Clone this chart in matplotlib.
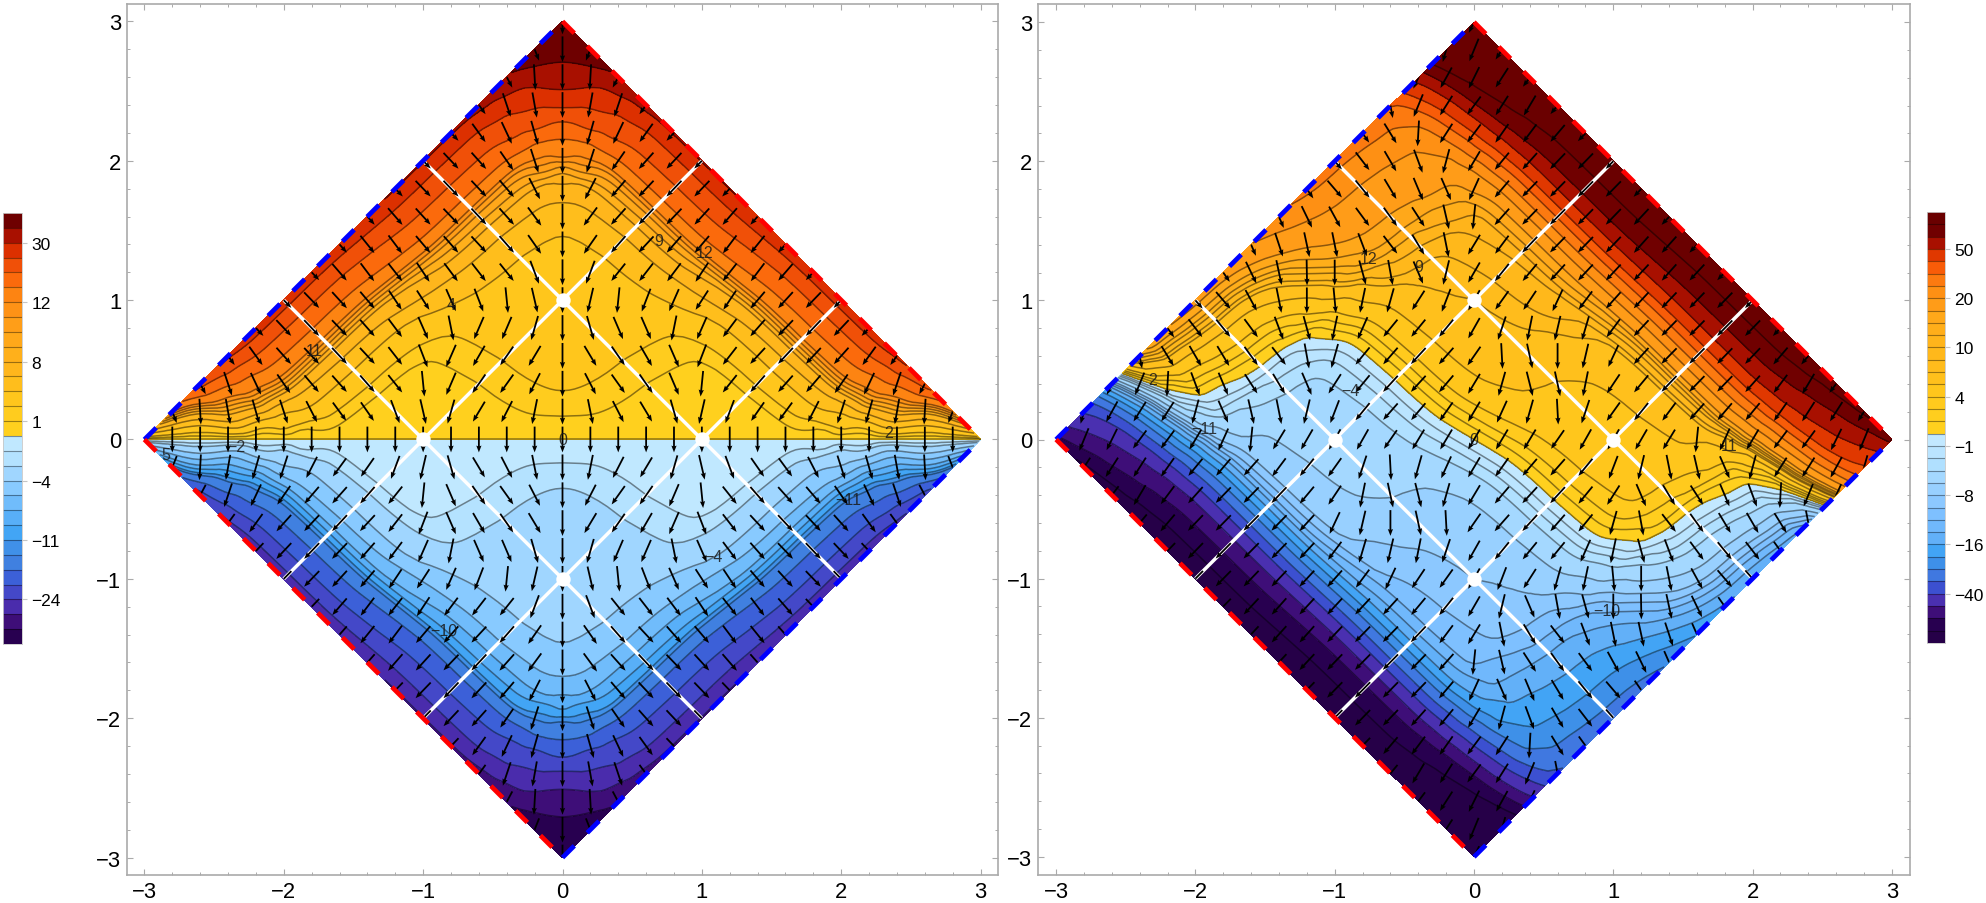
import numpy as np
import matplotlib
matplotlib.use("Agg")
import matplotlib.pyplot as plt
from matplotlib.patches import Polygon

plt.rcParams["font.family"] = ["Liberation Sans", "DejaVu Sans"]
plt.rcParams["lines.scale_dashes"] = False
plt.rcParams["contour.negative_linestyle"] = "solid"

# profiles read along the diagonals, knots every 0.05 from 0 to 3
left_profile = [0, .15, .30, .45, .59, .73, .87, 1.00, 1.11, 1.20, 1.27, 1.33, 1.38, 1.42, 1.46, 1.49,
                1.52, 1.54, 1.56, 1.58, 1.60, 1.63, 1.67, 1.71, 1.75, 1.79, 1.83, 1.88, 1.93, 1.99, 2.07,
                2.20, 2.38, 2.65, 3.00, 3.40, 3.78, 4.12, 4.42, 4.90, 5.65, 6.30, 6.90, 7.45, 8.05, 8.85,
                10.0, 11.2, 12.5, 13.7, 14.8, 15.8, 16.8, 17.8, 18.8, 20.0, 21.3, 22.8, 24.5, 26.5, 28.8]
right_u_profile = [0, .58, 1.15, 1.72, 2.30, 2.82, 3.30, 3.75, 4.15, 4.55, 4.90, 5.20, 5.45, 5.70, 5.90, 6.02,
                   6.12, 6.20, 6.28, 6.34, 6.40, 6.52, 6.65, 6.80, 6.95, 7.10, 7.28, 7.50, 7.72, 7.95, 8.13,
                   8.30, 8.50, 8.85, 9.60, 10.5, 11.4, 12.4, 14.3, 16.5, 19.0, 22.0, 25.0, 28.5, 32.0, 36.0,
                   40.0, 44.0, 48.3, 52.0, 55.5, 58.5, 61.0, 63.5, 66.0, 68.5, 71.0, 74.0, 77.0, 81.0, 85.0]
right_v_profile = [0, .15, .30, .45, .59, .73, .87, 1.00, 1.11, 1.20, 1.27, 1.33, 1.38, 1.42, 1.46, 1.49,
                   1.52, 1.54, 1.56, 1.58, 1.60, 1.63, 1.67, 1.71, 1.75, 1.79, 1.83, 1.88, 1.93, 1.99, 2.07,
                   2.20, 2.38, 2.65, 3.00, 3.40, 3.78, 4.12, 4.42, 4.90, 5.65, 6.30, 6.90, 7.30, 7.80, 8.40,
                   9.00, 9.60, 10.2, 10.8, 11.4, 12.0, 12.8, 13.7, 14.7, 15.7, 16.8, 18.0, 19.2, 20.6, 22.0]

left_levels = [-70, -38, -30, -24, -19, -15, -12, -11, -9.5, -8, -6, -4, -2, -1, 0,
               1, 2, 4, 6, 8, 9, 10, 11, 12, 15, 19, 24, 30, 38, 70]
right_levels = [-120, -70, -60, -50, -40, -32, -25, -20, -16, -13, -11, -9.5, -8, -5.9, -3.6, -2.3, -1.2, 0,
                1.2, 2.3, 3.6, 5.9, 8, 8.8, 10, 11, 12.4, 14.5, 20, 26, 33, 40, 50, 60, 70, 120]

left_colors = ["#280050", "#3e0e78", "#4a2cac", "#4448c8", "#3c60d8", "#4080e0", "#4090e8", "#42a5f5",
               "#58aff8", "#70bcfb", "#88caff", "#a0d6ff", "#b4e2ff", "#c0e8ff",
               "#ffd01e", "#ffcc1e", "#ffc61c", "#ffbe1c", "#ffb61c", "#ffb01b", "#ffa81a", "#ff9e18",
               "#fe9216", "#fd8412", "#fb6a0c", "#f05008", "#dc3000", "#a81000", "#6e0000"]
right_colors = ["#260048", "#280050", "#3e0e78", "#4a30b0", "#3c50d0", "#4078e0", "#3e90e8", "#42a4f5",
                "#62b0f8", "#70b8fc", "#7ec0ff", "#8cc8ff", "#98d0ff", "#a4d8ff", "#b0e0ff", "#bae4ff", "#c2e8ff",
                "#ffd01e", "#ffce1e", "#ffca1d", "#ffc61c", "#ffc01c", "#ffbc1c", "#ffb81b", "#ffb41b",
                "#ffae1a", "#ffa81a", "#ff9c18", "#fe9014", "#fc7a10", "#f85c08", "#e03800", "#a81000",
                "#700000", "#6a0000"]

left_ticks = [-24, -11, -4, 1, 8, 12, 30]
left_tick_pos = [-11, -7, -3, 1, 5, 9, 13]
right_ticks = [-40, -16, -8, -1, 4, 10, 20, 50]
right_tick_pos = [-13, -9, -5, -1, 3, 7, 11, 15]

left_labels = [("0", 0, 0), ("2", 2.34, .05), ("\u22122", -2.34, -.05), ("5", -2.85, -.11), ("11", -1.78, .64),
               ("4", -.8, .97), ("9", .69, 1.43), ("12", 1.02, 1.34), ("\u22124", 1.08, -.84),
               ("\u221210", -.85, -1.37), ("\u221211", 2.05, -.43)]
right_labels = [("12", -.76, 1.3), ("9", -.4, 1.24), ("2", -2.31, .43), ("\u22124", -.89, .35),
                ("\u221211", -1.94, .08), ("0", 0, 0), ("11", 1.83, -.04), ("\u221210", .95, -1.23)]

W, H = 1986, 904
GRAY = "#aaaaaa"


def full(profile):
    p = np.array(profile, dtype=float)
    return np.concatenate([-p[:0:-1], p])


def panel(rect, lims, prof_u, prof_v, levels, colors, labels):
    ax = fig.add_axes([rect[0] / W, 1 - rect[3] / H, (rect[2] - rect[0]) / W, (rect[3] - rect[1]) / H])
    gu, gv = full(prof_u), full(prof_v)
    knots = np.linspace(-3, 3, len(gu))
    U, V = np.meshgrid(knots, knots, indexing="ij")
    X, Y = (U - V) / 2, (U + V) / 2
    F = np.add.outer(gu, gv)
    ax.contourf(X, Y, F, levels=levels, colors=colors, zorder=1)
    ax.contour(X, Y, F, levels=levels[1:-1], colors="black", linewidths=1.1, alpha=0.45, zorder=2)

    # white lines and points
    for c in [-1, 1]:
        ax.plot([(c + 3) / 2, (c - 3) / 2], [(c - 3) / 2, (c + 3) / 2], color="white", lw=2.5, zorder=3, solid_capstyle="butt")
        ax.plot([(3 - c) / 2, (-3 - c) / 2], [(3 + c) / 2, (-3 + c) / 2], color="white", lw=2.5, zorder=3, solid_capstyle="butt")

    # arrows follow the slope of the two profiles
    du, dv = np.gradient(gu, knots), np.gradient(gv, knots)
    ax_x, ax_y, ax_a, ax_b = [], [], [], []
    for i in range(-15, 16):
        for j in range(-15, 16):
            x, y = i * .2, j * .2
            if abs(x) + abs(y) > 3.01:
                continue
            iu, iv = 60 + 4 * (i + j), 60 + 4 * (j - i)
            a, b = -(du[iu] - dv[iv]), -(du[iu] + dv[iv])
            n = np.hypot(a, b)
            if n == 0:
                continue
            a, b = a / n, b / n
            ln = .145 + .04 * b ** 4
            ax_x.append(x)
            ax_y.append(y)
            ax_a.append(a * ln)
            ax_b.append(b * ln)
    q = ax.quiver(ax_x, ax_y, ax_a, ax_b, angles="xy", scale_units="xy", scale=1, pivot="mid", units="dots",
                  width=1.8, headwidth=2.9, headlength=3.8, headaxislength=3.4, color="black", zorder=4)
    clip = Polygon([(-3, 0), (0, 3), (3, 0), (0, -3)], transform=ax.transData, facecolor="none", edgecolor="none")
    ax.add_patch(clip)
    q.set_clip_path(clip)

    ax.scatter([0, 0, 1, -1], [1, -1, 0, 0], s=108, color="white", linewidths=0, zorder=5)

    for txt, x, y in labels:
        ax.text(x, y, txt, fontsize=11.5, color="#1a1a1a", alpha=0.85, ha="center", va="center", zorder=5)

    # dashed edges
    dash = (0, (12, 13.2))
    for p0, p1, col in [((-3, 0), (0, 3), "#0000ff"), ((0, -3), (3, 0), "#0000ff"),
                        ((0, 3), (3, 0), "#ff0000"), ((-3, 0), (0, -3), "#ff0000")]:
        ax.plot([p0[0], p1[0]], [p0[1], p1[1]], color=col, lw=3.4, linestyle=dash, dash_capstyle="butt", zorder=6, clip_on=False)

    ax.set_xlim(lims)
    ax.set_ylim(lims)
    ax.set_xticks(range(-3, 4))
    ax.set_yticks(range(-3, 4))
    ax.set_xticks(np.arange(-3, 3.01, .2), minor=True)
    ax.set_yticks(np.arange(-3, 3.01, .2), minor=True)
    ax.tick_params(which="major", direction="in", length=4.5, width=0.8, color=GRAY, top=True, right=True, labelsize=15.8, labelcolor="black")
    ax.tick_params(which="minor", direction="in", length=2.5, width=0.7, color=GRAY, top=True, right=True)
    ax.tick_params(axis="x", pad=4.5)
    ax.tick_params(axis="y", pad=4)
    for s in ax.spines.values():
        s.set_color(GRAY)
        s.set_linewidth(1.2)
    return ax


def colorbar(rect, band_colors, below, pos, ticks):
    ax = fig.add_axes([rect[0] / W, 1 - rect[3] / H, (rect[2] - rect[0]) / W, (rect[3] - rect[1]) / H])
    n = len(band_colors)
    for k, c in enumerate(band_colors):
        ax.axhspan(k - below, k - below + 1, color=c, lw=0)
        if k > 0:
            ax.axhline(k - below, color="black", lw=0.8, alpha=0.4)
    ax.set_ylim(-below, n - below)
    ax.set_xlim(0, 1)
    ax.set_xticks([])
    ax.yaxis.tick_right()
    ax.set_yticks(pos)
    ax.set_yticklabels([str(t).replace("-", "\u2212") for t in ticks])
    ax.tick_params(axis="y", direction="out", length=3.6, width=0.8, color="#c4c4c4", labelsize=12.5, pad=3)
    for s in ax.spines.values():
        s.set_color("#c8c8c8")
        s.set_linewidth(0.6)


fig = plt.figure(figsize=(W / 100, H / 100), dpi=100)

panel((127, 5, 998, 876), (-3.125, 3.125), left_profile, left_profile, left_levels, left_colors, left_labels)
panel((1038, 5, 1910, 876), (-3.13, 3.13), right_u_profile, right_v_profile, right_levels, right_colors, right_labels)
colorbar((3, 214, 22, 645), left_colors, 14, left_tick_pos, left_ticks)
colorbar((1927, 213, 1945, 644), right_colors, 17, right_tick_pos, right_ticks)

fig.savefig("out.png", dpi=100)
